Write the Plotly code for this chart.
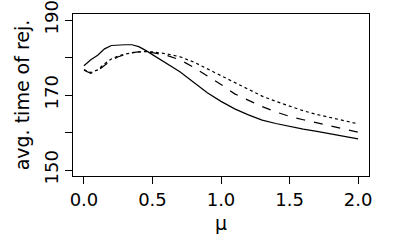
import plotly.graph_objects as go

mu = [0, 0.05, 0.1, 0.15, 0.2, 0.25, 0.3, 0.35, 0.4, 0.45, 0.5, 0.6, 0.7, 0.8, 0.9,
      1.0, 1.1, 1.2, 1.3, 1.4, 1.5, 1.6, 1.7, 1.8, 1.9, 2.0]

solid = [177.8, 179.4, 180.6, 182.3, 183.2, 183.4, 183.4, 183.4, 182.9, 181.9, 180.8,
         178.6, 176.2, 173.4, 170.6, 168.3, 166.3, 164.7, 163.3, 162.4, 161.6, 160.9,
         160.3, 159.6, 159.0, 158.3]

dashed = [176.6, 175.8, 176.5, 178.0, 179.3, 180.2, 180.8, 181.3, 181.5, 181.5, 181.3,
          180.6, 179.4, 177.4, 175.2, 172.8, 170.3, 168.5, 166.9, 165.5, 164.3, 163.4,
          162.6, 161.8, 160.9, 160.1]

dotted = [176.8, 176.0, 176.7, 178.3, 179.6, 180.4, 180.9, 181.3, 181.5, 181.6, 181.5,
          181.0, 180.2, 178.8, 177.0, 175.1, 173.2, 171.4, 169.7, 168.3, 167.0, 165.8,
          164.8, 163.9, 163.1, 162.3]

x_ticks = [0.0, 0.5, 1.0, 1.5, 2.0]
x_labels = ["0.0", "0.5", "1.0", "1.5", "2.0"]
y_ticks = [150, 160, 170, 180, 190]
y_labels = ["150", "", "170", "", "190"]

fig = go.Figure()
for ys, dash in [(solid, "solid"), (dashed, "dash"), (dotted, "dot")]:
    fig.add_trace(go.Scatter(x=mu, y=ys, mode="lines",
                             line=dict(color="black", width=1.2, dash=dash),
                             showlegend=False))

font = dict(family="DejaVu Sans", size=18, color="black")
tfont = dict(family="DejaVu Sans", size=19, color="black")
fig.update_layout(
    width=400, height=250,
    margin=dict(l=73, r=31, t=14, b=74),
    paper_bgcolor="white", plot_bgcolor="white",
    font=font,
    xaxis=dict(range=[-0.08, 2.08], tickvals=x_ticks, ticktext=x_labels,
               showgrid=False, zeroline=False, showline=True, mirror=True,
               linecolor="black", linewidth=1, ticks="outside", ticklen=7,
               tickcolor="black", tickfont=font, automargin=False,
               title=dict(text="μ", font=tfont, standoff=8)),
    yaxis=dict(range=[148.4, 191.6], tickvals=y_ticks, ticktext=y_labels,
               showgrid=False, zeroline=False, showline=True, mirror=True,
               linecolor="black", linewidth=1, ticks="outside", ticklen=7,
               tickcolor="black", tickfont=font, tickangle=-90, automargin=False,
               ticklabeloverflow="allow",
               title=dict(text="avg. time of rej.", font=tfont, standoff=6)),
)
fig.write_html("out.html", config={"displayModeBar": False},
               post_script="document.body.style.margin='0';")
